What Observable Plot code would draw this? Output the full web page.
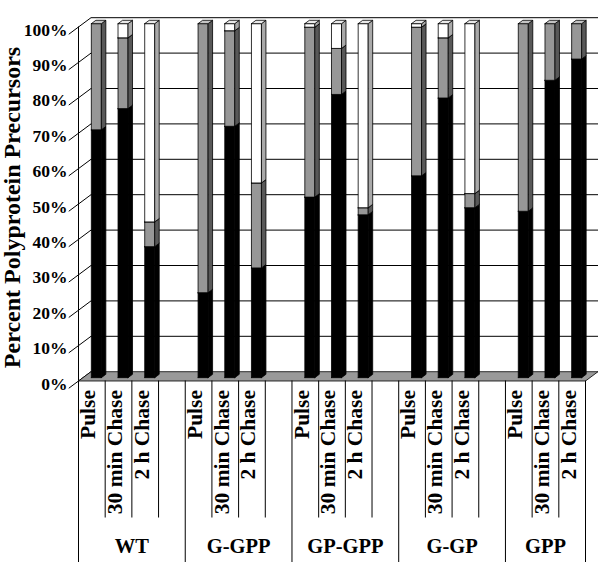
<!DOCTYPE html>
<html><head><meta charset="utf-8">
<script src="https://cdn.jsdelivr.net/npm/d3@7"></script>
<script src="https://cdn.jsdelivr.net/npm/@observablehq/plot@0.6"></script>
<style>body{margin:0;background:#fff} #chart{width:600px;height:562px}</style>
</head><body><div id="chart"></div>
<script>
// ---- data ----
const groups = ["WT", "G-GPP", "GP-GPP", "G-GP", "GPP"];
const timepoints = ["Pulse", "30 min Chase", "2 h Chase"];
const blackPct = [70, 76, 37, 24, 71, 31, 51, 80, 46, 57, 79, 48, 47, 84, 90];
const grayPct  = [30, 20, 7, 76, 27, 24, 48, 13, 2, 42, 17, 4, 53, 16, 10];
const whitePct = [0, 4, 56, 0, 2, 45, 1, 7, 52, 1, 4, 48, 0, 0, 0];
const yTicks = [0, 10, 20, 30, 40, 50, 60, 70, 80, 90, 100];
const yTickLabels = yTicks.map(v => v + "%");
const yTitle = "Percent Polyprotein Precursors";

// ---- layout ----
const W = 600, H = 562, mL = 78, mR = 15, mT = 26.5, mB = 181.5;
const nSlots = groups.length * 4 - 1;
const slotPx = (W - mL - mR) / nSlots;
const pctPx = (H - mT - mB) / 100;
const DX = 12.5 / slotPx, DY = 9.3 / pctPx;       // full depth in data units
const P = (s, v, d) => [s + d * DX, v + d * DY];  // oblique projection
const pxX = px => px / slotPx, pxY = px => px / pctPx;
const FONT = "Liberation Serif";

const palette = [
  {front: "#000000", side: "#000000", top: "#3a3a3a"},
  {front: "#979797", side: "#585858", top: "#c4c4c4"},
  {front: "#ffffff", side: "#a9a9a9", top: "#e9e9e9"}
];

// ---- build polygons ----
const faces = [];
let pid = 0;
function poly(pts, fill) {
  pts = [...pts, pts[0]];
  for (const [x, y] of pts) faces.push({id: pid, x, y, fill});
  pid++;
}
// floor
poly([P(0, 0, 0), P(nSlots, 0, 0), P(nSlots, 0, 1), P(0, 0, 1)], "#999999");

const bars = [];
groups.forEach((g, gi) => timepoints.forEach((t, ti) => {
  const i = gi * 3 + ti;
  bars.push({slot: gi * 4 + ti, vals: [blackPct[i], grayPct[i], whitePct[i]]});
}));
const d0 = 0.36, d1 = 0.72, halfW = 0.1875;
for (const b of bars) {
  const x0 = b.slot + 0.5 - halfW, x1 = b.slot + 0.5 + halfW;
  let base = 0;
  b.vals.forEach((v, k) => {
    if (!(v > 0)) return;
    const y0 = base, y1 = base + v, c = palette[k];
    poly([P(x0, y0, d0), P(x1, y0, d0), P(x1, y1, d0), P(x0, y1, d0)], c.front);
    poly([P(x1, y0, d0), P(x1, y0, d1), P(x1, y1, d1), P(x1, y1, d0)], c.side);
    poly([P(x0, y1, d0), P(x1, y1, d0), P(x1, y1, d1), P(x0, y1, d1)], c.top);
    base = y1;
  });
}

// walls
const backGrid = yTicks.filter(v => v > 0).map(v => {
  const [a, ya] = P(0, v, 1), [b, yb] = P(nSlots, v, 1);
  return {x1: a, y1: ya, x2: b, y2: yb};
});
const sideGrid = yTicks.map(v => {
  const [a, ya] = P(0, v, -0.78), [b, yb] = P(0, v, 1);
  return {x1: a, y1: ya, x2: b, y2: yb};
});

// category labels
const catLabels = [];
groups.forEach((g, gi) => timepoints.forEach((t, ti) => {
  catLabels.push({x: gi * 4 + ti + 0.5 - pxX(3.5), y: -pxY(9), text: t});
}));
const groupLabels = groups.map((g, gi) => ({
  x: gi < groups.length - 1 ? gi * 4 + 2 : gi * 4 + 1.5, y: -pxY(165), text: g
}));
const shortB = [], longB = [0];
groups.forEach((g, gi) => {
  shortB.push(gi * 4 + 1, gi * 4 + 2);
  if (gi < groups.length - 1) shortB.push(gi * 4 + 3);
  longB.push(gi < groups.length - 1 ? gi * 4 + 4 : gi * 4 + 3);
});

const chart = Plot.plot({
  width: W, height: H,
  marginLeft: mL, marginRight: mR, marginTop: mT, marginBottom: mB,
  x: {domain: [0, nSlots], axis: null},
  y: {domain: [0, 100], axis: null},
  color: {type: "identity"},
  style: {background: "#fff", overflow: "visible"},
  marks: [
    Plot.link(backGrid, {x1: "x1", y1: "y1", x2: "x2", y2: "y2", stroke: "#000", strokeWidth: 1}),
    Plot.link(sideGrid, {x1: "x1", y1: "y1", x2: "x2", y2: "y2", stroke: "#000", strokeWidth: 1}),
    Plot.ruleX([0], {y1: 0, y2: 100, stroke: "#000", strokeWidth: 1}),
    Plot.line(faces, {x: "x", y: "y", z: "id", fill: "fill", stroke: "#000", strokeWidth: 0.8, curve: "linear"}),
    Plot.ruleX(shortB, {x: d => d, y1: 0, y2: -pxY(137), stroke: "#000", strokeWidth: 1}),
    Plot.ruleX(longB, {x: d => d, y1: 0, y2: -pxY(182), stroke: "#000", strokeWidth: 1}),
    Plot.text(yTicks, {x: 0, y: d => d, text: (d, i) => yTickLabels[i], dx: -11, dy: 3,
      textAnchor: "end", fontSize: 17.5, fontWeight: "bold", fontFamily: FONT, fill: "#000"}),
    Plot.text(catLabels, {x: "x", y: "y", text: "text", rotate: -90, textAnchor: "end", lineAnchor: "middle",
      fontSize: 21.5, fontWeight: "bold", fontFamily: FONT, fill: "#000"}),
    Plot.text(groupLabels, {x: "x", y: "y", text: "text", textAnchor: "middle",
      fontSize: 20.5, fontWeight: "bold", fontFamily: FONT, fill: "#000"}),
    Plot.text([yTitle], {x: -pxX(66), y: (380.5 - 207) / pctPx, text: d => d, rotate: -90, textAnchor: "middle",
      fontSize: 24, fontWeight: "bold", fontFamily: FONT, fill: "#000"})
  ]
});
document.getElementById("chart").appendChild(chart);
</script>
</body></html>
